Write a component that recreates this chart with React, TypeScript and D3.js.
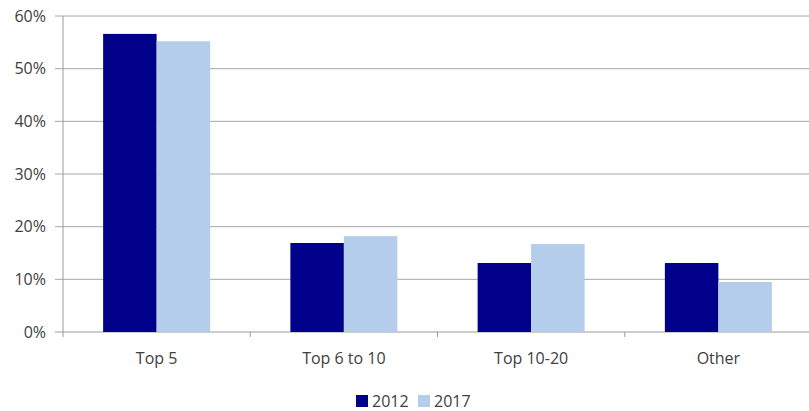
import React from "react";
import * as d3 from "d3";

const categories = ["Top 5", "Top 6 to 10", "Top 10-20", "Other"];
const seriesNames = ["2012", "2017"];
const values2012 = [0.566, 0.169, 0.131, 0.131];
const values2017 = [0.552, 0.182, 0.167, 0.095];
const yTicks = [0, 0.1, 0.2, 0.3, 0.4, 0.5, 0.6];
const colors = ["#00008B", "#B4CDEA"];

export default function App() {
  const W = 809, H = 411;
  const left = 63, right = 812, top = 16, bottom = 332;
  const x = d3.scaleBand<string>().domain(categories).range([left, right]).paddingInner(0).paddingOuter(0);
  const y = d3.scaleLinear().domain([0, 0.6]).range([bottom, top]);
  const inner = d3.scaleBand<string>().domain(seriesNames).range([0, x.bandwidth()]).paddingOuter(0.75).paddingInner(0);
  const series = [values2012, values2017];
  const fmt = d3.format(".0%");
  const font = "Open Sans, Liberation Sans, sans-serif";
  const textColor = "#404040";
  const boundaries = categories.map((c) => x(c)!).concat([right]);
  return (
    <svg width={W} height={H} style={{ position: "absolute", left: 0, top: 0, background: "#fff" }} fontFamily={font}>
      {yTicks.map((t) => (
        <g key={t}>
          <line x1={55} x2={W} y1={y(t)} y2={y(t)} stroke={t === 0 ? "#9a9a9a" : "#a6a6a6"} strokeWidth={1} />
          <text x={46} y={y(t)} dy="0.35em" textAnchor="end" fontSize={16} fill={textColor}>{fmt(t)}</text>
        </g>
      ))}
      <line x1={left} x2={left} y1={top} y2={bottom + 5} stroke="#9a9a9a" />
      {boundaries.slice(1, 4).map((b, i) => (
        <line key={i} x1={b} x2={b} y1={bottom} y2={bottom + 5} stroke="#9a9a9a" />
      ))}
      {categories.map((c, ci) => (
        <g key={c}>
          {seriesNames.map((s, si) => (
            <rect key={s} x={x(c)! + inner(s)!} width={inner.bandwidth()} y={y(series[si][ci])} height={bottom - y(series[si][ci])} fill={colors[si]} />
          ))}
          <text x={x(c)! + x.bandwidth() / 2} y={364} textAnchor="middle" fontSize={16} fill={textColor}>{c}</text>
        </g>
      ))}
      {seriesNames.map((s, si) => (
        <g key={s} transform={`translate(${356 + si * 62},0)`}>
          <rect x={0} y={395} width={12} height={12} fill={colors[si]} />
          <text x={16} y={407} fontSize={16} fill={textColor}>{s}</text>
        </g>
      ))}
    </svg>
  );
}
